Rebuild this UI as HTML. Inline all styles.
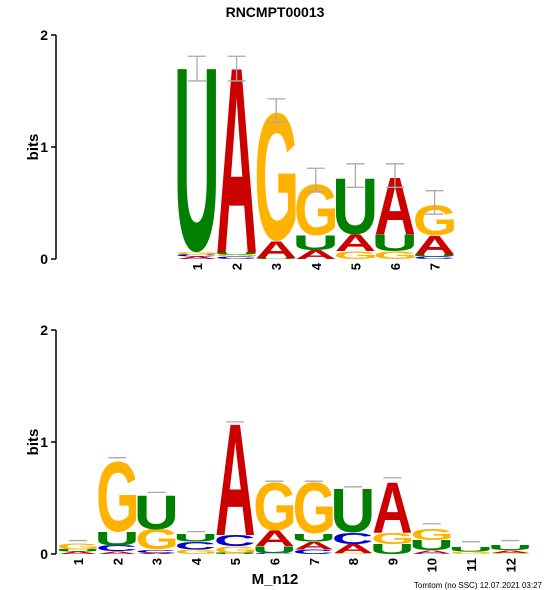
<!DOCTYPE html>
<html><head><meta charset="utf-8"><style>
html,body{margin:0;padding:0;background:#fff;}
svg{display:block;font-family:"Liberation Sans",sans-serif;}
</style></head><body>
<svg id="chart" width="550" height="590" viewBox="0 0 550 590" xmlns="http://www.w3.org/2000/svg">
<text x="275" y="17" text-anchor="middle" font-size="14" font-weight="bold">RNCMPT00013</text>
<g id="top"></g>
<g id="bot"></g>
<text x="275" y="584" text-anchor="middle" font-size="15" font-weight="bold">M_n12</text>
<text x="542" y="588" text-anchor="end" font-size="8">Tomtom (no SSC) 12.07.2021 03:27</text>
</svg>
<script>
// stacks bottom -> top: [letter, bits]
const topColumns = [
 [["A",0.02],["C",0.02],["G",0.02],["U",1.64]],
 [["C",0.02],["G",0.02],["U",0.02],["A",1.66]],
 [["U",0.01],["A",0.15],["G",1.15]],
 [["A",0.08],["U",0.13],["G",0.46]],
 [["G",0.07],["A",0.15],["U",0.50]],
 [["G",0.07],["U",0.15],["A",0.51]],
 [["C",0.02],["U",0.02],["A",0.17],["G",0.27]]
];
const topErrHigh = [1.81,1.81,1.43,0.81,0.85,0.85,0.61];
const topErrLow = [1.59,1.59,1.22,0.60,0.64,0.64,0.40];
const botColumns = [
 [["A",0.02],["U",0.02],["G",0.05]],
 [["A",0.025],["C",0.05],["U",0.12],["G",0.63]],
 [["A",0.01],["C",0.03],["G",0.18],["U",0.30]],
 [["G",0.04],["C",0.07],["U",0.07]],
 [["U",0.01],["G",0.06],["C",0.10],["A",1.00]],
 [["C",0.01],["U",0.06],["A",0.14],["G",0.43]],
 [["C",0.04],["A",0.07],["U",0.07],["G",0.46]],
 [["G",0.01],["A",0.08],["C",0.10],["U",0.39]],
 [["U",0.09],["G",0.10],["A",0.45]],
 [["C",0.005],["A",0.03],["U",0.09],["G",0.10]],
 [["G",0.02],["U",0.04]],
 [["G",0.01],["A",0.025],["U",0.045]]
];
const botErr = [0.12,0.86,0.55,0.20,1.18,0.65,0.65,0.60,0.68,0.27,0.11,0.12];
const yTicks = [0,1,2];

const colors = {A:"#CC0000",C:"#0000CC",G:"#FFB300",U:"#008000"};
const NS = "http://www.w3.org/2000/svg";
function mk(tag, attrs, parent){const e=document.createElementNS(NS,tag);for(const k in attrs)e.setAttribute(k,attrs[k]);parent.appendChild(e);return e;}
const ctx = document.createElement("canvas").getContext("2d");
ctx.font = 'bold 100px "Liberation Sans"';
const metrics = {};
function met(L){
  if(!metrics[L]){
    const m = ctx.measureText(L);
    let l = m.actualBoundingBoxLeft, r = m.actualBoundingBoxRight, a = m.actualBoundingBoxAscent, d = m.actualBoundingBoxDescent;
    if(!(r>0) || !(a>0)){ l=-2; r=70; a=72; d=1; }
    metrics[L] = {l:l, w:l+r, d:d, h:a+d};
  }
  return metrics[L];
}

function drawLogo(g, cols, x0, step, w, yZero, pxPerBit, errHi, errLo, prefix){
  const y = v => yZero - v*pxPerBit;
  const cx = i => x0 + i*step;
  const ax = mk("line",{x1:56,x2:56,y1:y(2),y2:y(0),stroke:"#000","stroke-width":1.5},g);
  
  
  yTicks.forEach(t=>{
    const tk = mk("line",{x1:51,x2:56,y1:y(t),y2:y(t),stroke:"#000","stroke-width":1.5},g);
    
    
    const tl = mk("text",{x:48,y:y(t)+5,"text-anchor":"end","font-size":14,"font-weight":"bold"},g);
    tl.textContent = t;
    
    
  });
  const bl = mk("text",{transform:`translate(38,${y(1)}) rotate(-90)`,"text-anchor":"middle","font-size":15,"font-weight":"bold"},g);
  bl.textContent = "bits";
  
  
  cols.forEach((stack,i)=>{
    let acc = 0;
    const left = cx(i) - w/2;
    stack.forEach(([L,v])=>{
      const h = v*pxPerBit;
      const base = y(acc);
      acc += v;
      if (h <= 0) return;
      const m = met(L);
      const t = mk("text",{transform:`translate(${left},${base}) scale(${w/m.w},${h/m.h})`,x:m.l,y:-m.d,"font-size":100,"font-weight":"bold",fill:colors[L]},g);
      t.textContent = L;
      
      
    });
    const hi = errHi[i], lo = errLo ? errLo[i] : errHi[i];
    const eg = mk("g",{stroke:"#aaa","stroke-width":1.3},g);
    
    
    mk("line",{x1:cx(i)-9,x2:cx(i)+9,y1:y(hi),y2:y(hi)},eg);
    if (errLo){
      mk("line",{x1:cx(i)-9,x2:cx(i)+9,y1:y(lo),y2:y(lo)},eg);
      mk("line",{x1:cx(i),x2:cx(i),y1:y(hi),y2:y(lo)},eg);
    }
    const lab = mk("text",{transform:`translate(${cx(i)+5},${yZero+4}) rotate(-90)`,"text-anchor":"end","font-size":13,"font-weight":"bold"},g);
    lab.textContent = i+1;
    
    
  });
}
drawLogo(document.getElementById("top"), topColumns, 197, 39.6, 39, 259, 112, topErrHigh, topErrLow, "top");
drawLogo(document.getElementById("bot"), botColumns, 78, 39.3, 38, 554, 112, botErr, null, "bottom");
</script>
</body></html>
